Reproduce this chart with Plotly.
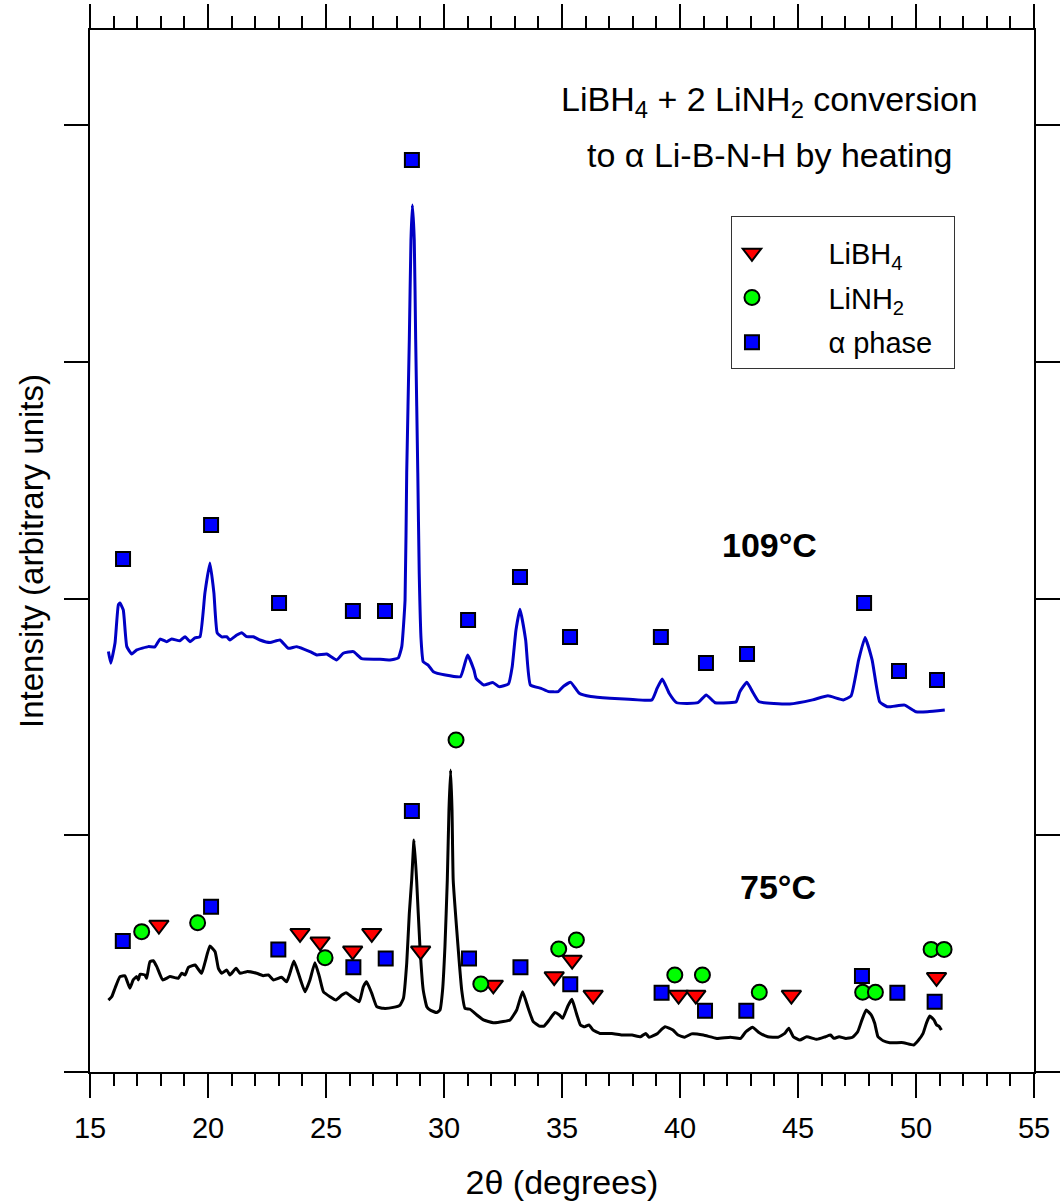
import plotly.graph_objects as go

# ---------------- data ----------------
# 109 °C pattern (blue)
x109 = [15.78, 15.88, 16.06, 16.20, 16.27, 16.41, 16.56, 16.77, 16.98, 17.47,
        17.75, 17.97, 18.25, 18.46, 18.81, 19.03, 19.24, 19.45, 19.66, 19.87,
        20.08, 20.25, 20.39, 20.58, 20.79, 20.93, 21.22, 21.43, 21.64, 21.92,
        22.20, 22.63, 23.05, 23.40, 23.76, 24.32, 24.61, 25.03, 25.45, 25.73,
        26.16, 26.51, 27.29, 27.71, 28.06, 28.21, 28.35, 28.42, 28.53, 28.60,
        28.66, 28.74, 28.80, 28.89, 28.95, 29.03, 29.12, 29.33, 29.55, 30.06,
        30.70, 31.00, 31.27, 31.36, 31.68, 32.08, 32.33, 32.73, 32.89, 33.05,
        33.22, 33.46, 33.66, 34.11, 34.43, 34.84, 35.08, 35.37, 35.73, 36.22,
        37.03, 37.84, 38.81, 39.03, 39.25, 39.54, 39.86, 40.76, 41.11, 41.49,
        42.06, 42.38, 42.54, 42.83, 43.11, 43.35, 44.65, 45.62, 46.27, 46.92,
        47.25, 47.57, 47.84, 48.14, 48.46, 48.78, 49.52, 50.00, 50.49, 51.22]
y109 = [177.6, 172.7, 181.2, 197.3, 198.1, 195.2, 179.7, 176.6, 178.3, 179.7,
        179.6, 182.9, 181.8, 182.9, 182.2, 183.9, 181.8, 183.4, 183.9, 202.4,
        215.0, 202.4, 185.5, 183.8, 183.9, 182.5, 184.6, 185.6, 183.9, 183.9,
        182.5, 181.4, 182.5, 179.0, 179.7, 177.6, 176.2, 176.6, 174.1, 176.9,
        177.6, 174.6, 174.4, 174.1, 174.9, 179.7, 199.4, 253.1, 309.3, 351.5,
        366.3, 351.5, 309.3, 253.1, 210.8, 182.5, 173.3, 171.9, 169.1, 167.7,
        167.0, 176.2, 169.8, 166.3, 163.5, 164.5, 162.8, 163.9, 171.2, 186.7,
        195.5, 182.5, 163.5, 162.1, 160.7, 160.7, 163.1, 164.6, 160.0, 158.6,
        157.9, 157.5, 157.2, 162.1, 166.0, 160.0, 156.0, 156.0, 159.3, 156.0,
        156.0, 156.4, 160.7, 164.6, 160.0, 156.4, 155.5, 157.2, 158.9, 157.2,
        158.9, 174.1, 183.6, 174.1, 156.4, 154.3, 155.0, 152.2, 152.2, 152.9]

# 75 °C pattern (black)
x75 = [15.78, 15.92, 16.06, 16.27, 16.48, 16.69, 16.83, 16.98, 17.05, 17.12,
       17.33, 17.40, 17.54, 17.68, 17.83, 18.08, 18.39, 18.74, 18.89, 19.03,
       19.17, 19.45, 19.59, 19.73, 19.87, 20.08, 20.30, 20.44, 20.58, 20.79,
       20.93, 21.19, 21.36, 21.64, 22.06, 22.34, 22.56, 22.77, 23.12, 23.33,
       23.47, 23.64, 23.83, 24.11, 24.32, 24.53, 24.72, 24.89, 25.17, 25.42,
       25.67, 25.85, 26.09, 26.41, 26.58, 26.72, 26.94, 27.15, 27.43, 27.85,
       28.14, 28.28, 28.42, 28.53, 28.63, 28.73, 28.84, 28.98, 29.12, 29.27,
       29.41, 29.69, 29.83, 29.94, 30.04, 30.14, 30.21, 30.28, 30.34, 30.39,
       30.54, 30.75, 30.89, 31.10, 31.39, 31.67, 32.09, 32.51, 32.80, 33.08,
       33.33, 33.57, 33.78, 34.04, 34.24, 34.46, 34.70, 34.89, 35.03, 35.25,
       35.42, 35.61, 35.78, 35.96, 36.14, 36.32, 36.61, 37.11, 37.54, 37.97,
       38.33, 38.55, 38.69, 39.05, 39.19, 39.37, 39.70, 39.92, 40.20, 40.49,
       40.99, 41.56, 42.14, 42.57, 42.79, 43.07, 43.36, 43.72, 44.15, 44.44,
       44.61, 44.80, 45.08, 45.37, 45.80, 46.16, 46.38, 46.52, 46.74, 47.03,
       47.31, 47.53, 47.71, 47.89, 48.10, 48.25, 48.39, 48.61, 48.89, 49.47,
       49.90, 50.11, 50.30, 50.44, 50.58, 50.76, 50.87, 50.97, 51.08]
y75 = [30.4, 31.8, 35.4, 40.3, 40.6, 35.4, 38.9, 40.3, 38.9, 41.3,
       41.0, 39.6, 46.6, 47.0, 44.5, 38.9, 40.3, 39.6, 41.7, 41.0,
       44.2, 45.2, 43.4, 41.7, 46.2, 53.2, 50.8, 43.8, 41.7, 43.1,
       41.0, 43.8, 41.7, 42.4, 41.7, 40.7, 41.0, 38.9, 40.0, 38.1,
       41.7, 46.9, 41.7, 33.9, 38.9, 46.2, 40.3, 33.9, 31.8, 30.4,
       32.5, 33.5, 31.8, 29.7, 36.0, 38.1, 33.2, 27.6, 26.9, 27.3,
       28.3, 31.1, 45.9, 67.0, 81.1, 98.0, 81.1, 52.9, 34.6, 27.6,
       26.2, 25.1, 26.2, 34.6, 52.9, 81.1, 110.7, 127.6, 110.7, 81.1,
       60.0, 34.6, 26.9, 26.5, 24.1, 22.0, 20.8, 21.3, 22.0, 26.2,
       33.9, 26.9, 21.3, 19.4, 19.4, 22.0, 25.1, 24.1, 22.7, 27.9,
       30.7, 24.8, 19.9, 19.1, 19.9, 17.7, 16.3, 16.3, 15.6, 15.6,
       14.9, 16.3, 14.7, 16.3, 17.7, 19.1, 17.7, 15.6, 14.7, 16.1,
       15.6, 14.2, 14.7, 14.2, 17.0, 18.9, 16.6, 14.9, 14.7, 16.3,
       18.5, 14.9, 13.5, 14.9, 13.8, 14.9, 15.6, 14.2, 14.9, 14.2,
       14.7, 17.0, 22.0, 26.2, 24.1, 20.6, 14.9, 13.2, 12.4, 12.4,
       11.4, 13.5, 16.3, 20.6, 23.7, 22.0, 19.9, 19.4, 17.7]

# phase markers
sq109_x = [16.40, 20.13, 23.01, 26.14, 27.50, 28.64, 31.02, 33.22, 35.34,
           39.19, 41.10, 42.84, 47.80, 49.28, 50.89]
sq109_y = [216.7, 231.1, 198.1, 194.8, 194.8, 385.3, 191.0, 209.1, 183.8,
           183.8, 172.8, 176.6, 198.1, 169.4, 165.6]

sq75_x = [16.39, 20.13, 22.98, 26.16, 27.53, 28.64, 31.06, 33.24, 35.35,
          39.22, 41.06, 42.81, 47.71, 49.21, 50.79]
sq75_y = [55.3, 69.8, 51.8, 44.2, 47.9, 110.3, 47.9, 44.2, 37.1,
          33.5, 25.9, 25.9, 40.6, 33.5, 29.7]

ci75_x = [17.19, 19.56, 24.96, 30.51, 31.56, 34.86, 35.61, 39.78, 40.95,
          43.36, 47.74, 48.28, 50.64, 51.19]
ci75_y = [59.3, 63.1, 48.3, 140.3, 37.2, 52.0, 55.8, 41.0, 41.0,
          33.7, 33.7, 33.7, 51.8, 51.8]

tr75_x = [17.92, 23.90, 24.75, 26.13, 26.94, 29.01, 32.09, 34.67, 35.43,
          36.32, 39.94, 40.67, 44.72, 50.87]
tr75_y = [62.1, 58.6, 55.0, 51.2, 58.6, 51.2, 36.8, 40.3, 47.3,
          32.5, 32.5, 32.5, 32.5, 40.0]

legend_names = ["LiBH<sub>4</sub>", "LiNH<sub>2</sub>", "\u03b1 phase"]
x_ticks = [15, 20, 25, 30, 35, 40, 45, 50, 55]

# ---------------- figure ----------------
FONT = "Arial, 'Liberation Sans', Helvetica, sans-serif"
PAD = "\u00a0" * 7
TAIL = "\u00a0" * 2
mk_line = dict(color="black", width=2)

fig = go.Figure()
fig.add_trace(go.Scatter(x=x109, y=y109, mode="lines",
                         line=dict(color="#0000C4", width=3,
                                   shape="spline", smoothing=0.4),
                         showlegend=False, hoverinfo="skip"))
fig.add_trace(go.Scatter(x=x75, y=y75, mode="lines",
                         line=dict(color="black", width=3,
                                   shape="spline", smoothing=0.4),
                         showlegend=False, hoverinfo="skip"))

fig.add_trace(go.Scatter(x=tr75_x, y=tr75_y, mode="markers",
                         marker=dict(symbol="triangle-down", size=17,
                                     color="#FF0000", line=mk_line),
                         name=PAD + legend_names[0] + TAIL, legendgroup="a", legendrank=1))
fig.add_trace(go.Scatter(x=ci75_x, y=ci75_y, mode="markers",
                         marker=dict(symbol="circle", size=15,
                                     color="#00FF00", line=mk_line),
                         name=PAD + legend_names[1] + TAIL, legendgroup="b", legendrank=2))
fig.add_trace(go.Scatter(x=sq109_x, y=sq109_y, mode="markers",
                         marker=dict(symbol="square", size=14,
                                     color="#0000FF", line=mk_line),
                         name=PAD + legend_names[2] + TAIL, legendgroup="c", legendrank=3))
fig.add_trace(go.Scatter(x=sq75_x, y=sq75_y, mode="markers",
                         marker=dict(symbol="square", size=14,
                                     color="#0000FF", line=mk_line),
                         showlegend=False, legendgroup="c"))

fig.add_annotation(x=43.81, y=409.8, xref="x", yref="y", showarrow=False,
                   text="LiBH<sub>4</sub> + 2 LiNH<sub>2</sub> conversion",
                   font=dict(size=34, color="black", family=FONT))
fig.add_annotation(x=43.81, y=387.4, xref="x", yref="y", showarrow=False,
                   text="to \u03b1 Li-B-N-H by heating",
                   font=dict(size=34, color="black", family=FONT))
fig.add_annotation(x=43.81, y=222.6, xref="x", yref="y", showarrow=False,
                   text="<b>109\u00b0C</b>",
                   font=dict(size=34, color="black", family=FONT))
fig.add_annotation(x=44.15, y=78.2, xref="x", yref="y", showarrow=False,
                   text="<b>75\u00b0C</b>",
                   font=dict(size=34, color="black", family=FONT))

fig.update_layout(
    width=1061, height=1203,
    margin=dict(l=90, r=27, t=30, b=131, autoexpand=False),
    paper_bgcolor="white", plot_bgcolor="white",
    font=dict(family=FONT, color="black"),
    legend=dict(x=0.679, y=0.8215, xanchor="left", yanchor="top",
                bordercolor="#333333", borderwidth=1, bgcolor="white",
                font=dict(size=29, family=FONT, color="black"),
                title=dict(text="\u00a0", font=dict(size=8, family=FONT)),
                tracegroupgap=4, traceorder="grouped"),
    xaxis=dict(range=[15, 55], tickmode="array", tickvals=x_ticks,
               ticktext=[str(v) for v in x_ticks],
               ticks="outside", ticklen=24, tickwidth=2, tickcolor="black",
               minor=dict(dtick=1, tick0=15, ticks="outside", ticklen=12,
                          tickwidth=2, tickcolor="black", showgrid=False),
               showline=True, linewidth=2, linecolor="black", mirror="ticks",
               showgrid=False, zeroline=False, automargin=False,
               tickfont=dict(size=29, family=FONT, color="black"),
               ticklabelstandoff=5,
               title=dict(text="2\u03b8 (degrees)", standoff=27,
                          font=dict(size=34, family=FONT, color="black"))),
    yaxis=dict(range=[0, 440.2], tick0=0, dtick=100,
               ticks="outside", ticklen=24, tickwidth=2, tickcolor="black",
               showticklabels=False, automargin=False,
               showline=True, linewidth=2, linecolor="black", mirror="ticks",
               showgrid=False, zeroline=False,
               title=dict(text="Intensity (arbitrary units)", standoff=10,
                          font=dict(size=33, family=FONT, color="black"))),
)

fig.write_html("out.html")
